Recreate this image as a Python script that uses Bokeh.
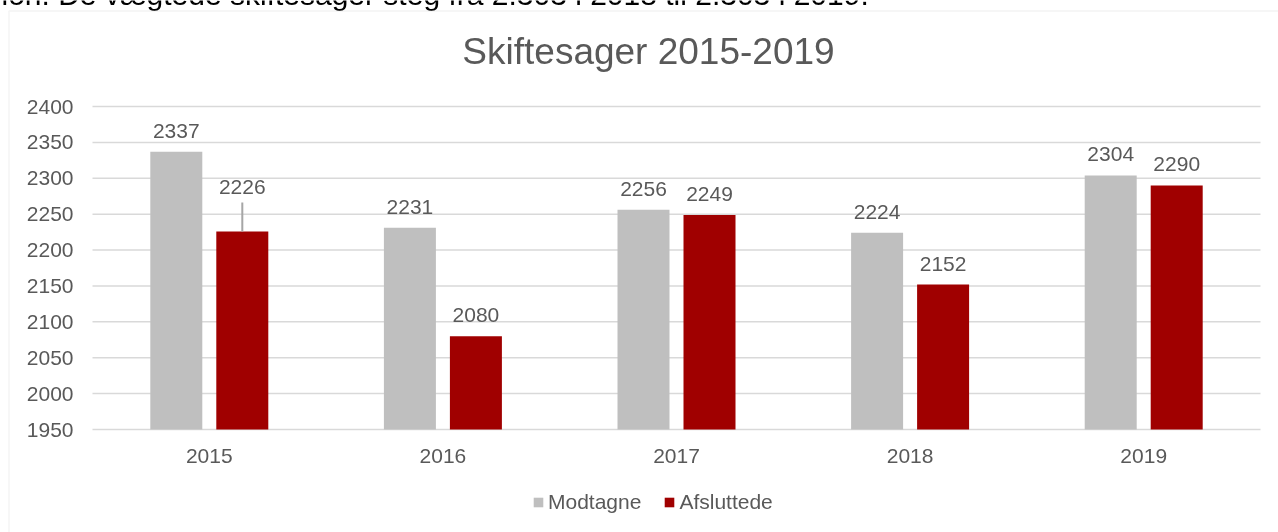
from bokeh.plotting import figure
from bokeh.models import ColumnDataSource, Range1d, Legend, LegendItem, BoxAnnotation
from bokeh.transform import dodge
from bokeh.core.properties import value
from bokeh.embed import file_html
from bokeh.resources import INLINE

# ---------------- data ----------------
years = ["2015", "2016", "2017", "2018", "2019"]
modtagne = [2337, 2231, 2256, 2224, 2304]
afsluttede = [2226, 2080, 2249, 2152, 2290]
series_names = ["Modtagne", "Afsluttede"]
y_ticks = [1950, 2000, 2050, 2100, 2150, 2200, 2250, 2300, 2350, 2400]
title_text = "Skiftesager 2015-2019"
intro_text = "ion. De vægtede skiftesager steg fra 2.303 i 2018 til 2.303 i 2019."

# ---------------- style ----------------
FONT = value("Liberation Sans")
TXT = "#595959"
GRAY = "#BFBFBF"
RED = "#A00000"
GRID = "#D9D9D9"

W, H = 1278, 532
# plot area in page pixels
PL, PR, PT, PB = 92, 1260, 106, 429
Y0, Y1 = y_ticks[0], y_ticks[-1]
n = len(years)
ppu = (PB - PT) / (Y1 - Y0)          # px per value unit
ppx = (PR - PL) / n                   # px per category

def xd(px):  # page x -> data x
    return (px - PL) / ppx

def yd(py):  # page y -> data y
    return Y1 + (PT - py) / ppu

p = figure(width=W, height=H, title=None,
           x_range=Range1d(xd(0), xd(W)), y_range=Range1d(yd(H), yd(0)),
           x_axis_location=None, y_axis_location=None,
           output_backend="svg", toolbar_location=None, min_border=0)
p.styles = {"position": "fixed", "top": "0px", "left": "0px"}
p.outline_line_color = None
p.grid.grid_line_color = None
p.background_fill_color = "white"
p.border_fill_color = "white"

off = 33 / ppx
bw = 52 / ppx
xc = [i + 0.5 for i in range(n)]

lift = [44 if i == 0 else 21 for i in range(n)]
src = ColumnDataSource(dict(
    xc=xc, year=years, modtagne=modtagne, afsluttede=afsluttede,
    m_txt=[str(v) for v in modtagne], a_txt=[str(v) for v in afsluttede],
    m_lab=[v + 21 / ppu for v in modtagne],
    a_lab=[v + l / ppu for v, l in zip(afsluttede, lift)],
    x_lab=[Y0 - 26 / ppu] * n,
))

# horizontal gridlines across the plot area
grid_src = ColumnDataSource(dict(y=y_ticks, x0=[0] * len(y_ticks), x1=[n] * len(y_ticks),
                                 txt=[str(t) for t in y_ticks],
                                 xl=[-19 / ppx] * len(y_ticks)))
p.segment(x0="x0", x1="x1", y0="y", y1="y", source=grid_src,
          line_color=GRID, line_width=1.5)

r1 = p.vbar(x=dodge("xc", -off), top="modtagne", bottom=Y0,
            width=bw, source=src, fill_color=GRAY, line_color=None)
r2 = p.vbar(x=dodge("xc", off), top="afsluttede", bottom=Y0,
            width=bw, source=src, fill_color=RED, line_color=None)

# leader line for the lifted 2015 label
lead = ColumnDataSource(dict(x=[xc[0] + off], y0=[afsluttede[0]],
                             y1=[afsluttede[0] + 29 / ppu]))
p.segment(x0="x", x1="x", y0="y0", y1="y1", source=lead,
          line_color="#A6A6A6", line_width=2)

# data labels
for xo, yf, tf in [(-off, "m_lab", "m_txt"), (off, "a_lab", "a_txt")]:
    p.text(x=dodge("xc", xo), y=yf, text=tf, source=src,
           text_align="center", text_baseline="middle",
           text_font=FONT, text_font_size="21px", text_color=TXT)

# y tick labels
p.text(x="xl", y="y", text="txt", source=grid_src, text_align="right",
       text_baseline="middle", text_font=FONT, text_font_size="21px", text_color=TXT)
# x category labels
p.text(x="xc", y="x_lab", text="year", source=src, text_align="center",
       text_baseline="middle", text_font=FONT, text_font_size="21px", text_color=TXT)

# title and cut-off sentence above the chart
p.text(x=[xd(648)], y=[yd(51)], text=[title_text], text_align="center",
       text_baseline="middle", text_font=FONT, text_font_size="37px", text_color=TXT)
p.text(x=[xd(1)], y=[yd(-6)], text=[intro_text], text_align="left",
       text_baseline="middle", text_font=FONT, text_font_size="30px",
       text_color="#000000")

# chart box border
p.add_layout(BoxAnnotation(left=8.5, right=W + 50, top=H - 10.5, bottom=-50,
                           left_units="screen", right_units="screen",
                           top_units="screen", bottom_units="screen",
                           fill_alpha=0, line_color=GRID, line_width=1.5))

legend = Legend(items=[LegendItem(label=series_names[0], renderers=[r1]),
                       LegendItem(label=series_names[1], renderers=[r2])],
                orientation="horizontal", location=(532, H - 514),
                glyph_width=12, glyph_height=12, label_standoff=4, spacing=22,
                label_text_font="Liberation Sans", label_text_font_size="21px",
                label_text_color=TXT, label_height=24,
                padding=0, margin=0, border_line_color=None, background_fill_alpha=0)
p.add_layout(legend, "center")

open("out.html", "w").write(file_html(p, INLINE))
